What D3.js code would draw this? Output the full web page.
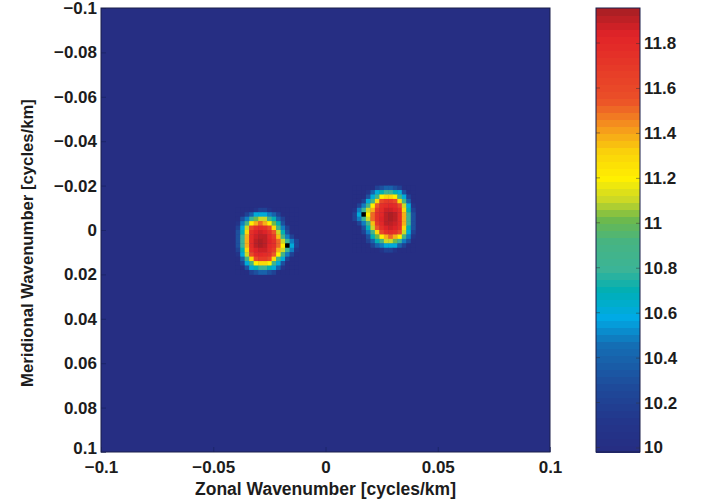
<!DOCTYPE html>
<html lang="en">
<head>
<meta charset="UTF-8">
<title>Wavenumber spectrum</title>
<script src="https://d3js.org/d3.v7.min.js"></script>
<style>
  body { margin: 0; background: #fff; }
  text { font-family: "Liberation Sans", Arial, sans-serif; font-weight: bold; fill: #1c1c1c; }
</style>
</head>
<body>
<svg width="709" height="499"></svg>
<script>
// axis ticks
const xTicks = [-0.1, -0.05, 0, 0.05, 0.1];
const xTickLabels = ["\u22120.1", "\u22120.05", "0", "0.05", "0.1"];
const yTicks = [-0.1, -0.08, -0.06, -0.04, -0.02, 0, 0.02, 0.04, 0.06, 0.08, 0.1];
const yTickLabels = ["\u22120.1", "\u22120.08", "\u22120.06", "\u22120.04", "\u22120.02", "0",
                     "0.02", "0.04", "0.06", "0.08", "0.1"];
const cbTicks = [10, 10.2, 10.4, 10.6, 10.8, 11, 11.2, 11.4, 11.6, 11.8];
const cbRange = [9.98, 11.956];

// field: background level plus two patches on a 0.002 cycles/km grid
const backgroundValue = 10;
const cellSize = 0.002;
const leftOrigin = [-0.040, -0.010];   // [zonal, meridional] of top-left cell
const leftBlob = [
  [10,10,10,10,10.1,10.2,10.2,10.1,10,10,10,10,10,10],
  [10,10,10.2,10.4,10.6,10.6,10.6,10.5,10.4,10.2,10,10,10,10],
  [10,10.3,10.5,10.8,11.0,11.1,11.1,10.9,10.7,10.4,10.2,10,10,10],
  [10.1,10.5,10.9,11.2,11.4,11.5,11.4,11.2,11.0,10.7,10.3,10,10,10],
  [10.2,10.6,11.1,11.6,11.75,11.8,11.75,11.6,11.3,10.9,10.5,10.2,10,10],
  [10.3,10.7,11.3,11.75,11.85,11.88,11.85,11.75,11.55,11.1,10.7,10.3,10,10],
  [10.3,10.8,11.4,11.8,11.88,11.92,11.9,11.82,11.7,11.35,10.9,10.5,10.2,10],
  [10.3,10.8,11.4,11.8,11.92,11.95,11.92,11.85,11.75,11.5,11.1,10.8,10.5,10.2],
  [10.3,10.8,11.4,11.8,11.9,11.93,11.9,11.83,11.75,11.5,11.2,null,10.6,10.2],
  [10.2,10.7,11.3,11.75,11.85,11.88,11.87,11.8,11.7,11.4,11.1,10.8,10.5,10.1],
  [10.1,10.6,11.1,11.6,11.78,11.82,11.8,11.75,11.55,11.2,10.9,10.5,10.2,10],
  [10,10.4,10.9,11.3,11.6,11.7,11.7,11.6,11.3,10.9,10.6,10.2,10,10],
  [10,10.2,10.6,10.9,11.2,11.3,11.3,11.2,10.9,10.6,10.3,10,10,10],
  [10,10,10.3,10.6,10.7,10.8,10.8,10.7,10.6,10.4,10.1,10,10,10],
  [10,10,10,10.2,10.3,10.4,10.4,10.3,10.2,10,10,10,10,10]
];
const rightOrigin = [0.012, -0.020];
const rightBlob = [
  [10,10,10,10,10,10.2,10.3,10.4,10.4,10.3,10.2,10,10,10],
  [10,10,10,10.1,10.4,10.6,10.7,10.8,10.8,10.7,10.6,10.3,10,10],
  [10,10,10,10.3,10.6,10.9,11.2,11.3,11.3,11.2,10.9,10.6,10.2,10],
  [10,10,10.2,10.6,10.9,11.3,11.6,11.7,11.7,11.6,11.3,10.9,10.4,10],
  [10,10.2,10.5,10.9,11.2,11.55,11.75,11.8,11.82,11.78,11.6,11.1,10.6,10.1],
  [10.1,10.5,10.8,11.1,11.4,11.7,11.8,11.87,11.88,11.85,11.75,11.3,10.7,10.2],
  [10.2,10.6,null,11.2,11.5,11.75,11.83,11.9,11.93,11.9,11.8,11.4,10.8,10.3],
  [10.2,10.5,10.8,11.1,11.5,11.75,11.85,11.92,11.95,11.92,11.8,11.4,10.8,10.3],
  [10,10.2,10.5,10.9,11.35,11.7,11.82,11.9,11.92,11.88,11.8,11.4,10.8,10.3],
  [10,10,10.3,10.7,11.1,11.55,11.75,11.85,11.88,11.85,11.75,11.3,10.7,10.3],
  [10,10,10.2,10.5,10.9,11.3,11.6,11.75,11.8,11.75,11.6,11.1,10.6,10.2],
  [10,10,10,10.3,10.7,11.0,11.2,11.4,11.5,11.4,11.2,10.9,10.5,10.1],
  [10,10,10,10.2,10.4,10.7,10.9,11.1,11.1,11.0,10.8,10.5,10.3,10],
  [10,10,10,10,10.2,10.4,10.5,10.6,10.6,10.6,10.4,10.2,10,10],
  [10,10,10,10,10,10,10.1,10.2,10.2,10.1,10,10,10,10]
];

// colormap as printed (jet-like)
const colorStopValues = [9.98, 10.13, 10.28, 10.46, 10.58, 10.7, 10.8, 10.92, 11.02, 11.1, 11.2, 11.32, 11.43, 11.55, 11.84, 11.956];
const colorStopColors = ["#262d82", "#23378c", "#1e4b9b", "#146eb4", "#00aae6", "#00afb4", "#3cb496", "#46b482",
                         "#6eb94b", "#c8d728", "#fff000", "#fad20a", "#f5961e", "#eb5028", "#e12328", "#a51e23"];

const plot = { left: 101, right: 550, top: 8, bottom: 452 };
const cbar = { left: 596, right: 640, top: 8, bottom: 452 };

const svg = d3.select("svg");

const x = d3.scaleLinear().domain([-0.1, 0.1]).range([plot.left, plot.right]);
const y = d3.scaleLinear().domain([-0.1, 0.1]).range([plot.top, plot.bottom]);

const nLevels = 64;
const smooth = d3.scaleLinear().domain(colorStopValues).range(colorStopColors)
    .interpolate(d3.interpolateRgb).clamp(true);
const levelOf = v => Math.max(0, Math.min(nLevels - 1,
    Math.floor((v - cbRange[0]) / (cbRange[1] - cbRange[0]) * nLevels)));
const levelColor = k => smooth(cbRange[0] + (k + 0.5) / nLevels * (cbRange[1] - cbRange[0]));
const color = v => v == null ? "#000" : levelColor(levelOf(v));

// background field
svg.append("rect")
    .attr("x", plot.left).attr("y", plot.top)
    .attr("width", plot.right - plot.left).attr("height", plot.bottom - plot.top)
    .attr("fill", color(backgroundValue));

function drawPatch(grid, origin) {
  const cells = [];
  grid.forEach((row, r) => row.forEach((v, c) => cells.push({ r, c, v })));
  svg.append("g").selectAll("rect")
    .data(cells)
    .join("rect")
      .attr("x", d => x(origin[0] + d.c * cellSize))
      .attr("y", d => y(origin[1] + d.r * cellSize))
      .attr("width", d => x(origin[0] + (d.c + 1) * cellSize) - x(origin[0] + d.c * cellSize) + 0.4)
      .attr("height", d => y(origin[1] + (d.r + 1) * cellSize) - y(origin[1] + d.r * cellSize) + 0.4)
      .attr("fill", d => color(d.v));
}
drawPatch(leftBlob, leftOrigin);
drawPatch(rightBlob, rightOrigin);

// axes
const xAxis = svg.append("g")
    .attr("transform", `translate(0,${plot.bottom})`)
    .call(d3.axisBottom(x).tickValues(xTicks)
      .tickFormat((d, i) => xTickLabels[i]).tickSizeInner(-5).tickSizeOuter(0).tickPadding(9));
const yAxis = svg.append("g")
    .attr("transform", `translate(${plot.left},0)`)
    .call(d3.axisLeft(y).tickValues(yTicks)
      .tickFormat((d, i) => yTickLabels[i]).tickSizeInner(-5).tickSizeOuter(0).tickPadding(4));
[xAxis, yAxis].forEach(g => {
  g.select(".domain").remove();
  g.selectAll(".tick line").attr("stroke", "#16205a").attr("stroke-opacity", 0.6);
  g.selectAll(".tick text").style("font-size", "17px");
});
// bottom y label sits just above the x labels, as in the original
yAxis.selectAll(".tick text").filter(d => d === 0.1).attr("dy", "0.1em");

svg.append("rect")
    .attr("x", plot.left).attr("y", plot.top)
    .attr("width", plot.right - plot.left).attr("height", plot.bottom - plot.top)
    .attr("fill", "none").attr("stroke", "#1a1f4a").attr("stroke-width", 1);

svg.append("text")
    .attr("x", 325.5).attr("y", 495)
    .attr("text-anchor", "middle").style("font-size", "17.5px")
    .text("Zonal Wavenumber [cycles/km]");
svg.append("text")
    .attr("transform", `translate(33,243) rotate(-90)`)
    .attr("text-anchor", "middle").style("font-size", "16.7px")
    .text("Meridional Wavenumber [cycles/km]");

// colorbar
const cy = d3.scaleLinear().domain(cbRange).range([cbar.bottom, cbar.top]);
const levels = d3.range(nLevels);
svg.append("g").attr("shape-rendering", "crispEdges").selectAll("rect")
  .data(levels)
  .join("rect")
    .attr("x", cbar.left)
    .attr("width", cbar.right - cbar.left)
    .attr("y", k => cy(cbRange[0] + (k + 1) / nLevels * (cbRange[1] - cbRange[0])))
    .attr("height", (cbar.bottom - cbar.top) / nLevels + 1)
    .attr("fill", k => levelColor(k));

const cAxis = svg.append("g")
    .attr("transform", `translate(${cbar.right},0)`)
    .call(d3.axisRight(cy).tickValues(cbTicks)
      .tickFormat(d3.format("~g")).tickSizeInner(-4).tickSizeOuter(0).tickPadding(4));
cAxis.select(".domain").remove();
cAxis.selectAll(".tick line").attr("stroke", "#333").attr("stroke-opacity", 0.5);
cAxis.selectAll(".tick text").style("font-size", "17px");
svg.append("g").selectAll("line")
  .data(cbTicks)
  .join("line")
    .attr("x1", cbar.left).attr("x2", cbar.left + 4)
    .attr("y1", d => cy(d)).attr("y2", d => cy(d))
    .attr("stroke", "#333").attr("stroke-opacity", 0.5);

svg.append("rect")
    .attr("x", cbar.left).attr("y", cbar.top)
    .attr("width", cbar.right - cbar.left).attr("height", cbar.bottom - cbar.top)
    .attr("fill", "none").attr("stroke", "#1a1f4a").attr("stroke-width", 1);
</script>
</body>
</html>
